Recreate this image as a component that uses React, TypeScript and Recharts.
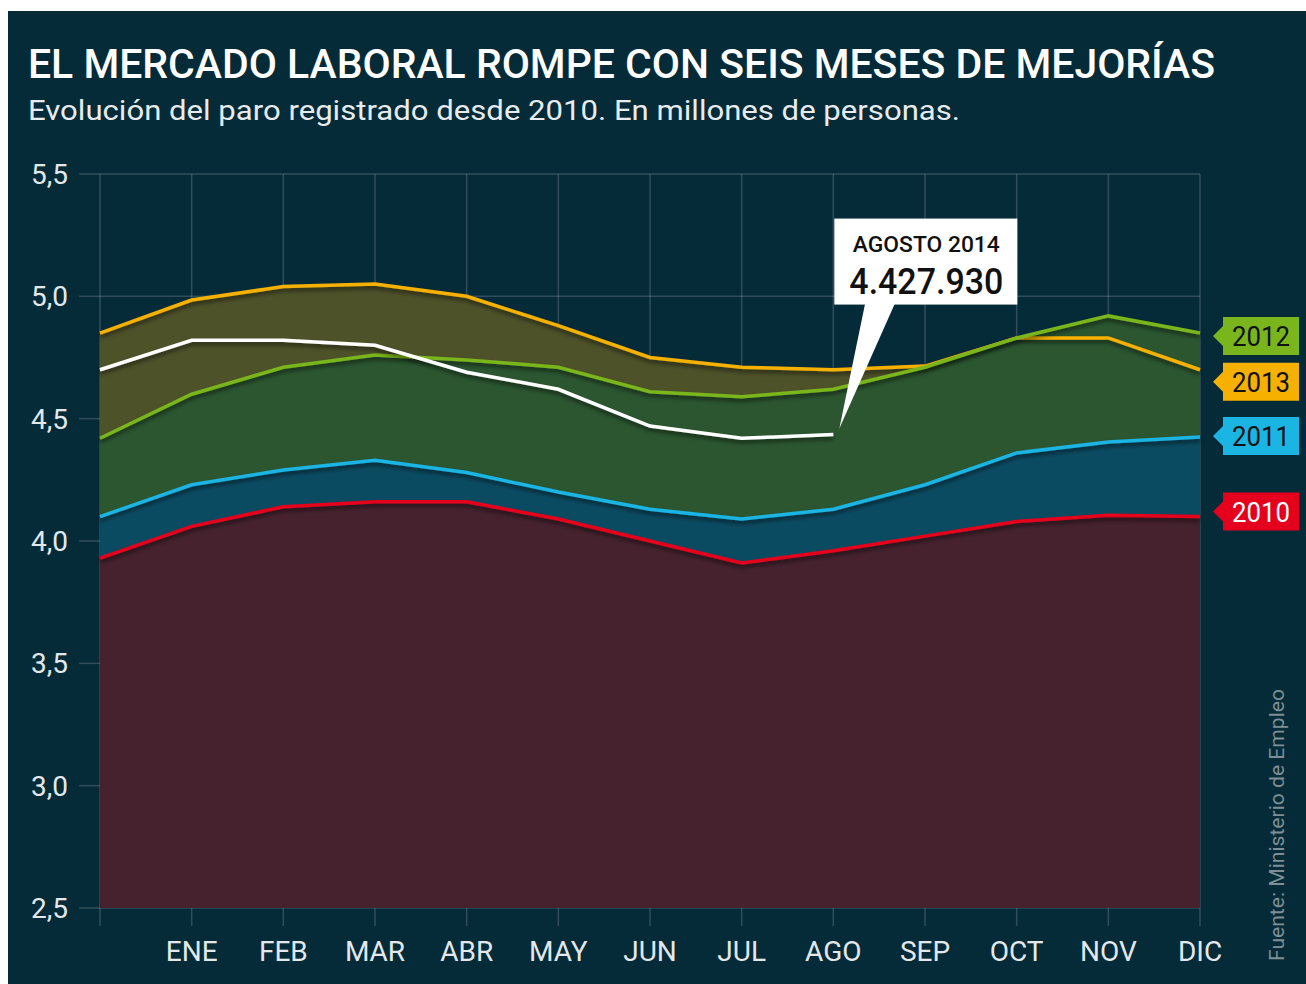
import { Area, CartesianGrid, ComposedChart, LabelList, Line, XAxis, YAxis } from 'recharts';

const months = ["", "ENE", "FEB", "MAR", "ABR", "MAY", "JUN", "JUL", "AGO", "SEP", "OCT", "NOV", "DIC"];
const paro2010 = [3.93, 4.06, 4.14, 4.16, 4.16, 4.09, 4.0, 3.91, 3.96, 4.02, 4.08, 4.105, 4.1];
const paro2011 = [4.1, 4.23, 4.29, 4.33, 4.28, 4.2, 4.13, 4.09, 4.13, 4.23, 4.36, 4.405, 4.425];
const paro2012 = [4.42, 4.6, 4.71, 4.76, 4.74, 4.71, 4.61, 4.59, 4.62, 4.71, 4.83, 4.92, 4.85];
const paro2013 = [4.85, 4.985, 5.04, 5.05, 5.0, 4.88, 4.75, 4.71, 4.7, 4.715, 4.83, 4.83, 4.7];
const paro2014 = [4.7, 4.82, 4.82, 4.8, 4.69, 4.62, 4.47, 4.42, 4.435];
const yTicks = [2.5, 3, 3.5, 4, 4.5, 5, 5.5];

const data = months.map((m, i) => ({
    mes: m,
    y2010: paro2010[i],
    y2011: paro2011[i],
    y2012: paro2012[i],
    y2013: paro2013[i],
    y2014: i < paro2014.length ? paro2014[i] : null,
}));

const BG = "#052a38";
const gridColor = "rgba(200,210,215,0.22)";

// area fills go first, lines on top
const years = [
    { key: "y2013", name: "2013", line: "#f6b100", fill: "#4e5229", tagText: "#111", dy: 12 },
    { key: "y2012", name: "2012", line: "#7ab51d", fill: "#2b5630", tagText: "#111", dy: 3 },
    { key: "y2011", name: "2011", line: "#1ab5e3", fill: "#0b4b62", tagText: "#111", dy: -1 },
    { key: "y2010", name: "2010", line: "#e5001e", fill: "#45222e", tagText: "#fff", dy: -5 },
];

const font = "Roboto, 'Noto Sans', sans-serif";

const makeTag = (name: string, color: string, textColor: string, dy: number) => (props: any) => {
    const { x, y, index } = props;
    if (index !== months.length - 1) return null;
    const cy = y + dy;
    const left = x + 23;
    return (
        <g>
            <path
                d={`M${x + 13},${cy} L${left},${cy - 10} L${left},${cy - 19} L${x + 99},${cy - 19} L${x + 99},${cy + 19} L${left},${cy + 19} L${left},${cy + 10} Z`}
                fill={color}
            />
            <text x={left + 38} y={cy + 10} textAnchor="middle" fontSize={28} fontFamily={font} fill={textColor} textLength={58} lengthAdjust="spacingAndGlyphs">
                {name}
            </text>
        </g>
    );
};

const Annotation = (props: any) => {
    const { x, y, index } = props;
    if (index !== 8) return null;
    return (
        <g>
            <path d={`M${x + 32},${y - 132} L${x + 62},${y - 132} L${x + 6},${y - 6} Z`} fill="#fff" />
            <rect x={x + 1} y={y - 216} width={183} height={86} fill="#fff" />
            <text x={x + 93} y={y - 183} textAnchor="middle" fontSize={22} fontWeight={500} fontFamily={font} fill="#111" textLength={147} lengthAdjust="spacingAndGlyphs">
                AGOSTO 2014
            </text>
            <text x={x + 93} y={y - 141} textAnchor="middle" fontSize={36} fontWeight={500} fontFamily={font} fill="#111" textLength={154} lengthAdjust="spacingAndGlyphs">
                4.427.930
            </text>
        </g>
    );
};

const App = () => {
    return (
        <div style={{ position: "fixed", left: 8, top: 11, width: 1298, height: 973, background: BG, overflow: "hidden" }}>
            <ComposedChart
                width={1298}
                height={973}
                data={data}
                margin={{ top: 163, right: 106, left: 0, bottom: 16 }}
            >
                <defs>
                    <filter id="sombra" x="-5%" y="-20%" width="110%" height="140%">
                        <feDropShadow dx="0" dy="3" stdDeviation="2" floodColor="#000" floodOpacity="0.55" />
                    </filter>
                </defs>
                <CartesianGrid stroke={gridColor} strokeWidth={1.5} />
                <XAxis
                    dataKey="mes"
                    interval={0}
                    axisLine={false}
                    tickSize={18}
                    tickMargin={15}
                    height={60}
                    tickLine={{ stroke: gridColor, strokeWidth: 1.5 }}
                    tick={{ fill: "#e4e8ea", fontSize: 28, fontFamily: font }}
                />
                <YAxis
                    type="number"
                    domain={[2.5, 5.5]}
                    ticks={yTicks}
                    width={92}
                    axisLine={false}
                    tickSize={21}
                    tickMargin={11}
                    tickLine={{ stroke: gridColor, strokeWidth: 1.5 }}
                    tickFormatter={(v: number) => v.toFixed(1).replace(".", ",")}
                    tick={{ fill: "#e4e8ea", fontSize: 28, fontFamily: font }}
                    allowDataOverflow
                />
                {years.map(s => (
                    <Area
                        key={`a-${s.key}`}
                        type="linear"
                        dataKey={s.key}
                        stroke="none"
                        fill={s.fill}
                        fillOpacity={1}
                        baseValue={2.5}
                        isAnimationActive={false}
                    />
                ))}
                {years.map(s => (
                    <Line
                        key={`l-${s.key}`}
                        type="linear"
                        dataKey={s.key}
                        stroke={s.line}
                        strokeWidth={3.5}
                        dot={false}
                        filter="url(#sombra)"
                        isAnimationActive={false}
                    >
                        <LabelList dataKey={s.key} content={makeTag(s.name, s.line, s.tagText, s.dy)} />
                    </Line>
                ))}
                <Line
                    type="linear"
                    dataKey="y2014"
                    stroke="#ffffff"
                    strokeWidth={3.5}
                    dot={false}
                    connectNulls={false}
                    filter="url(#sombra)"
                    isAnimationActive={false}
                >
                    <LabelList dataKey="y2014" content={Annotation} />
                </Line>
            </ComposedChart>
            <svg width={1298} height={973} style={{ position: "absolute", left: 0, top: 0, pointerEvents: "none" }}>
                <text x={20} y={67} fontSize={40} fontWeight={500} fontFamily={font} fill="#ffffff" textLength={1187} lengthAdjust="spacingAndGlyphs">
                    EL MERCADO LABORAL ROMPE CON SEIS MESES DE MEJORÍAS
                </text>
                <text x={20} y={109} fontSize={28} fontFamily={font} fill="#e8ecee" textLength={932} lengthAdjust="spacingAndGlyphs">
                    Evolución del paro registrado desde 2010. En millones de personas.
                </text>
                <text
                    transform="translate(1276,950) rotate(-90)"
                    fontSize={20}
                    fontFamily={font}
                    fill="#7d8f96"
                    textLength={272}
                    lengthAdjust="spacingAndGlyphs"
                >
                    Fuente: Ministerio de Empleo
                </text>
            </svg>
        </div>
    );
};

export default App;
